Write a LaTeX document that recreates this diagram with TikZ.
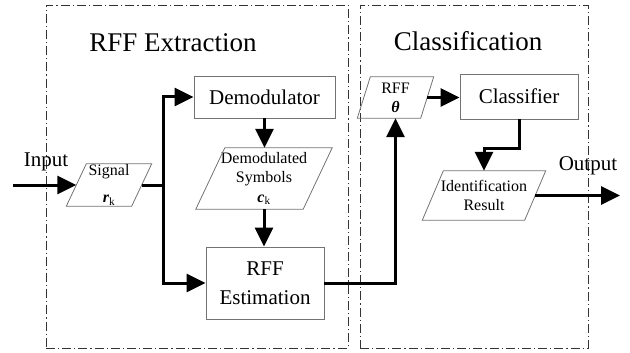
\documentclass[tikz,border=0pt]{standalone}
\usepackage{fontspec}
\setmainfont{Liberation Serif}
\usetikzlibrary{arrows.meta,calc}
\begin{document}
\begin{tikzpicture}[x=1pt,y=-1pt,
  bigfont/.style={font=\fontsize{21}{25}\selectfont},
  smallfont/.style={font=\fontsize{16}{19}\selectfont},
  titlefont/.style={font=\fontsize{27}{30}\selectfont},
  procbox/.style={draw=black!55, line width=0.8pt, rectangle, inner sep=0pt, align=center, bigfont},
  ptext/.style={inner sep=0pt, align=center, smallfont},
  pbox/.style={draw=black!55, line width=0.8pt},
  region/.style={draw=black!80, line width=0.9pt, dash pattern=on 9pt off 3pt on 1.2pt off 3pt, inner sep=0pt},
  conn/.style={line width=3pt},
  arr/.style={conn, -{Triangle[length=19pt,width=18pt]}},
]
\useasboundingbox (0,0) rectangle (630,353);
% regions
\node[region, minimum width=302, minimum height=343] (ext) at (197,176.5) {};
\node[region, minimum width=228, minimum height=343] (clsreg) at (474,176.5) {};
\node[titlefont, anchor=base] (exttitle) at (173,52) {RFF Extraction};
\node[titlefont, anchor=base] (clstitle) at (468,51) {Classification};
% labels
\node[bigfont, anchor=base] (inlbl) at (46,166) {Input};
\node[bigfont, anchor=base] (outlbl) at (588,170) {Output};
% boxes
\node[procbox, minimum width=141, minimum height=42] (demod) at (264.5,97) {Demodulator};
\node[procbox, minimum width=118, minimum height=72] (est) at (265,283) {RFF\\[4pt]Estimation};
\node[procbox, minimum width=118, minimum height=45] (cls) at (519,96.5) {Classifier};
% parallelograms
\node[ptext, minimum width=65, minimum height=42] (sig) at (109,185) {Signal\\[8pt]\textbf{\textit{r}}\textsubscript{k}};
\draw[pbox] ($(sig.north west)+(10,0)$) -- ($(sig.north east)+(10,0)$) -- ($(sig.south east)+(-10,0)$) -- ($(sig.south west)+(-10,0)$) -- cycle;
\node[ptext, minimum width=107, minimum height=61] (syms) at (264,178.5) {Demodulated\\Symbols\\[1pt]\textbf{\textit{c}}\textsubscript{k}};
\draw[pbox] ($(syms.north west)+(14.5,0)$) -- ($(syms.north east)+(14.5,0)$) -- ($(syms.south east)+(-14.5,0)$) -- ($(syms.south west)+(-14.5,0)$) -- cycle;
\node[ptext, minimum width=63, minimum height=41] (rffth) at (395.5,97.5) {RFF\\\textbf{\textit{θ}}};
\draw[pbox] ($(rffth.north west)+(6.5,0)$) -- ($(rffth.north east)+(6.5,0)$) -- ($(rffth.south east)+(-6.5,0)$) -- ($(rffth.south west)+(-6.5,0)$) -- cycle;
\node[ptext, minimum width=102, minimum height=49] (ident) at (484,195.5) {Identification\\Result};
\draw[pbox] ($(ident.north west)+(10.5,0)$) -- ($(ident.north east)+(10.5,0)$) -- ($(ident.south east)+(-10.5,0)$) -- ($(ident.south west)+(-10.5,0)$) -- cycle;
% connectors
\coordinate (in) at (13,185);
\coordinate (split) at (163,185);
\coordinate (out) at (620,195.5);
\draw[arr] (in) -- (sig.west);
\draw[conn] (sig.east) -- (split);
\draw[arr] (split) |- (demod.west);
\draw[arr] (split) |- (est.west);
\draw[arr] (demod.south) -- (demod.south |- syms.north);
\draw[arr] (syms.south) -- (syms.south |- est.north);
\draw[arr] (est.east) -| (rffth.south);
\draw[arr] (rffth.east) -- (rffth.east -| cls.west);
\draw[arr] (cls.south) -- ++(0,29) -| (ident.north);
\draw[arr] (ident.east) -- (out);
\end{tikzpicture}
\end{document}
